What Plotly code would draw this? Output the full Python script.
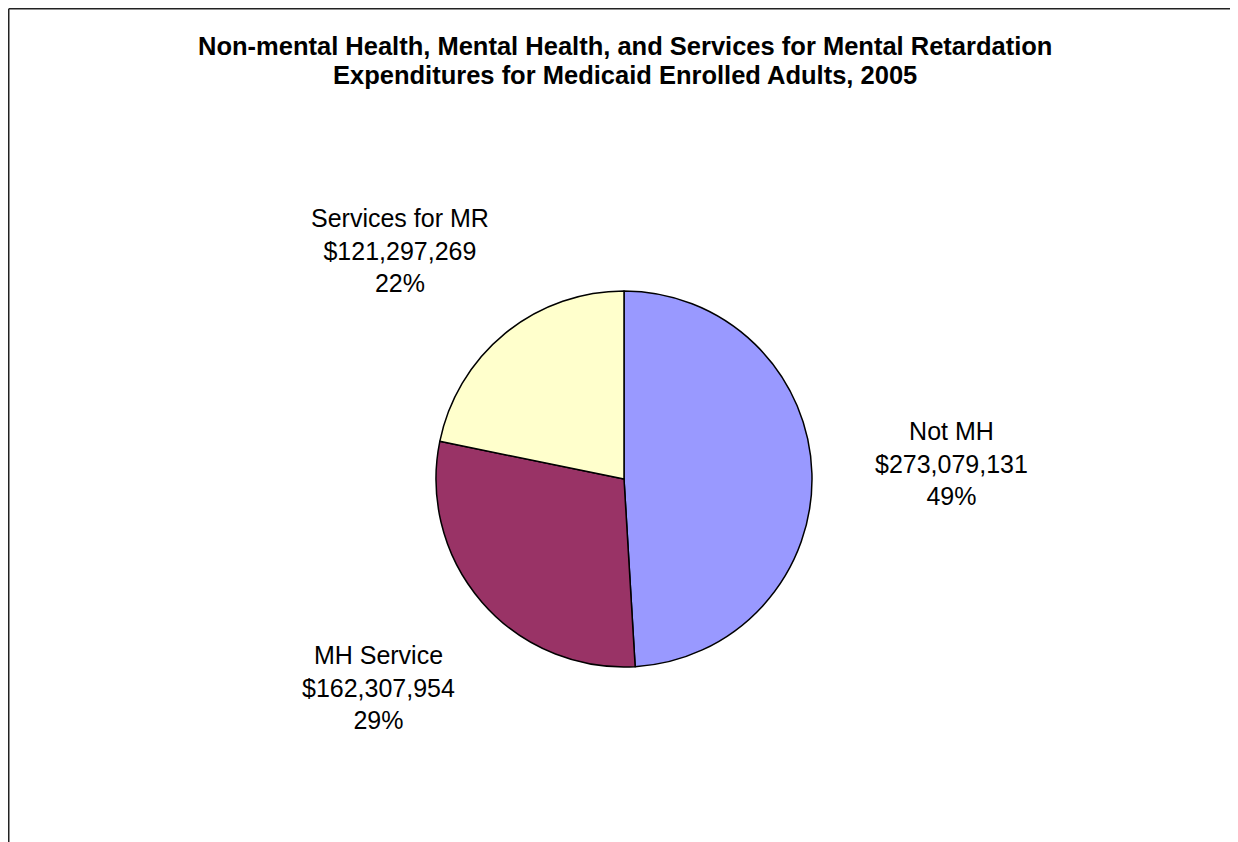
import plotly.graph_objects as go

title_lines = ["Non-mental Health, Mental Health, and Services for Mental Retardation",
               "Expenditures for Medicaid Enrolled Adults, 2005"]
categories = ["Not MH", "MH Service", "Services for MR"]
values = [273079131, 162307954, 121297269]
colors = ["#9999FF", "#993366", "#FFFFCC"]

# the page body adds an 8px margin, so the figure is 8px smaller than the window
W, H = 1230, 834
total = sum(values)
pcts = [round(v / total * 100) for v in values]

# label block centres in figure pixels (layout only)
label_pos = {"Not MH": (943, 455), "MH Service": (370, 679), "Services for MR": (392, 243)}
title_y = [38, 67]

cx, cy, r = 616, 471, 188

fig = go.Figure(go.Pie(
    labels=categories, values=values, sort=False, direction="clockwise", rotation=0,
    marker=dict(colors=colors, line=dict(color="#000000", width=1.5)),
    textinfo="none", hoverinfo="label+value+percent", showlegend=False,
    domain=dict(x=[(cx - r) / W, (cx + r) / W], y=[1 - (cy + r) / H, 1 - (cy - r) / H]),
))

annotations = []
for line, ty in zip(title_lines, title_y):
    annotations.append(dict(text="<b>" + line + "</b>", x=616.5 / W, y=1 - ty / H,
                            xref="paper", yref="paper", showarrow=False,
                            xanchor="center", yanchor="middle",
                            font=dict(family="Liberation Sans, Arial", size=25.5, color="#000000")))
for cat, v, p in zip(categories, values, pcts):
    px, py = label_pos[cat]
    annotations.append(dict(text=f"{cat}<br>${v:,}<br>{p}%", x=px / W, y=1 - py / H,
                            xref="paper", yref="paper", showarrow=False,
                            xanchor="center", yanchor="middle", align="center",
                            font=dict(family="Liberation Sans, Arial", size=25, color="#000000")))

bc = "#222222"
shapes = [
    dict(type="line", xref="paper", yref="paper", x0=0.75 / W, x1=0.75 / W, y0=1 - 0.75 / H, y1=-0.05,
         line=dict(color=bc, width=1.5)),
    dict(type="line", xref="paper", yref="paper", x0=0.75 / W, x1=1223 / W, y0=1 - 0.75 / H, y1=1 - 0.75 / H,
         line=dict(color=bc, width=1.5)),
    dict(type="line", xref="paper", yref="paper", x0=1223 / W, x1=1223 / W, y0=1 - 0.75 / H, y1=-0.05,
         line=dict(color=bc, width=1.5)),
]

fig.update_layout(width=W, height=H, margin=dict(l=0, r=0, t=0, b=0),
                  paper_bgcolor="#FFFFFF", plot_bgcolor="#FFFFFF",
                  annotations=annotations, shapes=shapes)
fig.write_html("out.html")
